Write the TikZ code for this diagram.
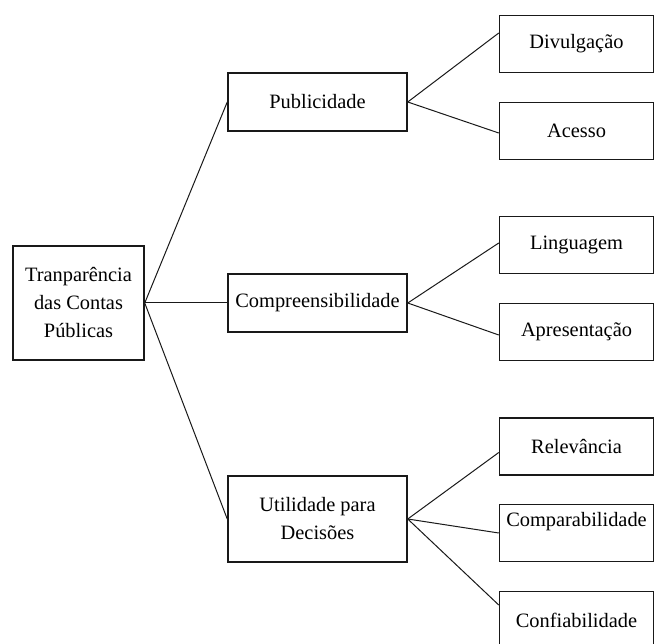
\documentclass[tikz,border=0pt]{standalone}
\usepackage{fontspec}
\setmainfont{Liberation Serif}
\usetikzlibrary{positioning}
\definecolor{ink}{gray}{0.10}

\tikzset{
  box/.style={draw=ink, line width=1.5pt, align=center, inner sep=0pt,
    font=\fontsize{20.4}{28}\selectfont},
  leaf/.style={box, minimum width=154pt, minimum height=57pt},
  mid/.style={box, minimum width=179pt, minimum height=58pt},
  link/.style={ink, line width=1pt}
}

\begin{document}
\begin{tikzpicture}[x=1pt,y=1pt]
  \useasboundingbox (0,0) rectangle (655,643);
  % root
  \node[box, minimum width=131pt, minimum height=114pt] (root) at (78.5,340)
    {Tranparência\\das Contas\\Públicas};
  % middle level
  \node[mid] (pub)  at (317.5,541) {Publicidade};
  \node[mid] (comp) at (317.5,340) {Compreensibilidade};
  \node[mid, minimum height=86pt] (util) at (317.5,124) {Utilidade para\\Decisões};
  % leaves
  \node[leaf] (div)    at (576.5,599)   {Divulgação};
  \node[leaf] (acc)    at (576.5,512)   {Acesso};
  \node[leaf] (ling)   at (576.5,398)   {Linguagem};
  \node[leaf] (apr)    at (576.5,311)   {Apresentação};
  \node[leaf] (rel)    at (576.5,196.5) {Relevância};
  \node[leaf] (compar) at (576.5,110)   {Comparabilidade\\\mbox{}};
  \node[leaf] (conf)   at (576.5,23)    {Confiabilidade};

  \foreach \m in {pub,comp,util}
    \draw[link] (root.east) -- (\m.west);
  % leaf ends do not all meet the middle of the box
  \foreach \a/\b/\s in {pub/div/11,pub/acc/-2,comp/ling/2,comp/apr/-3,
                        util/rel/-6,util/compar/0,util/conf/15}
    \draw[link] (\a.east) -- ([yshift=\s pt]\b.west);
\end{tikzpicture}
\end{document}
